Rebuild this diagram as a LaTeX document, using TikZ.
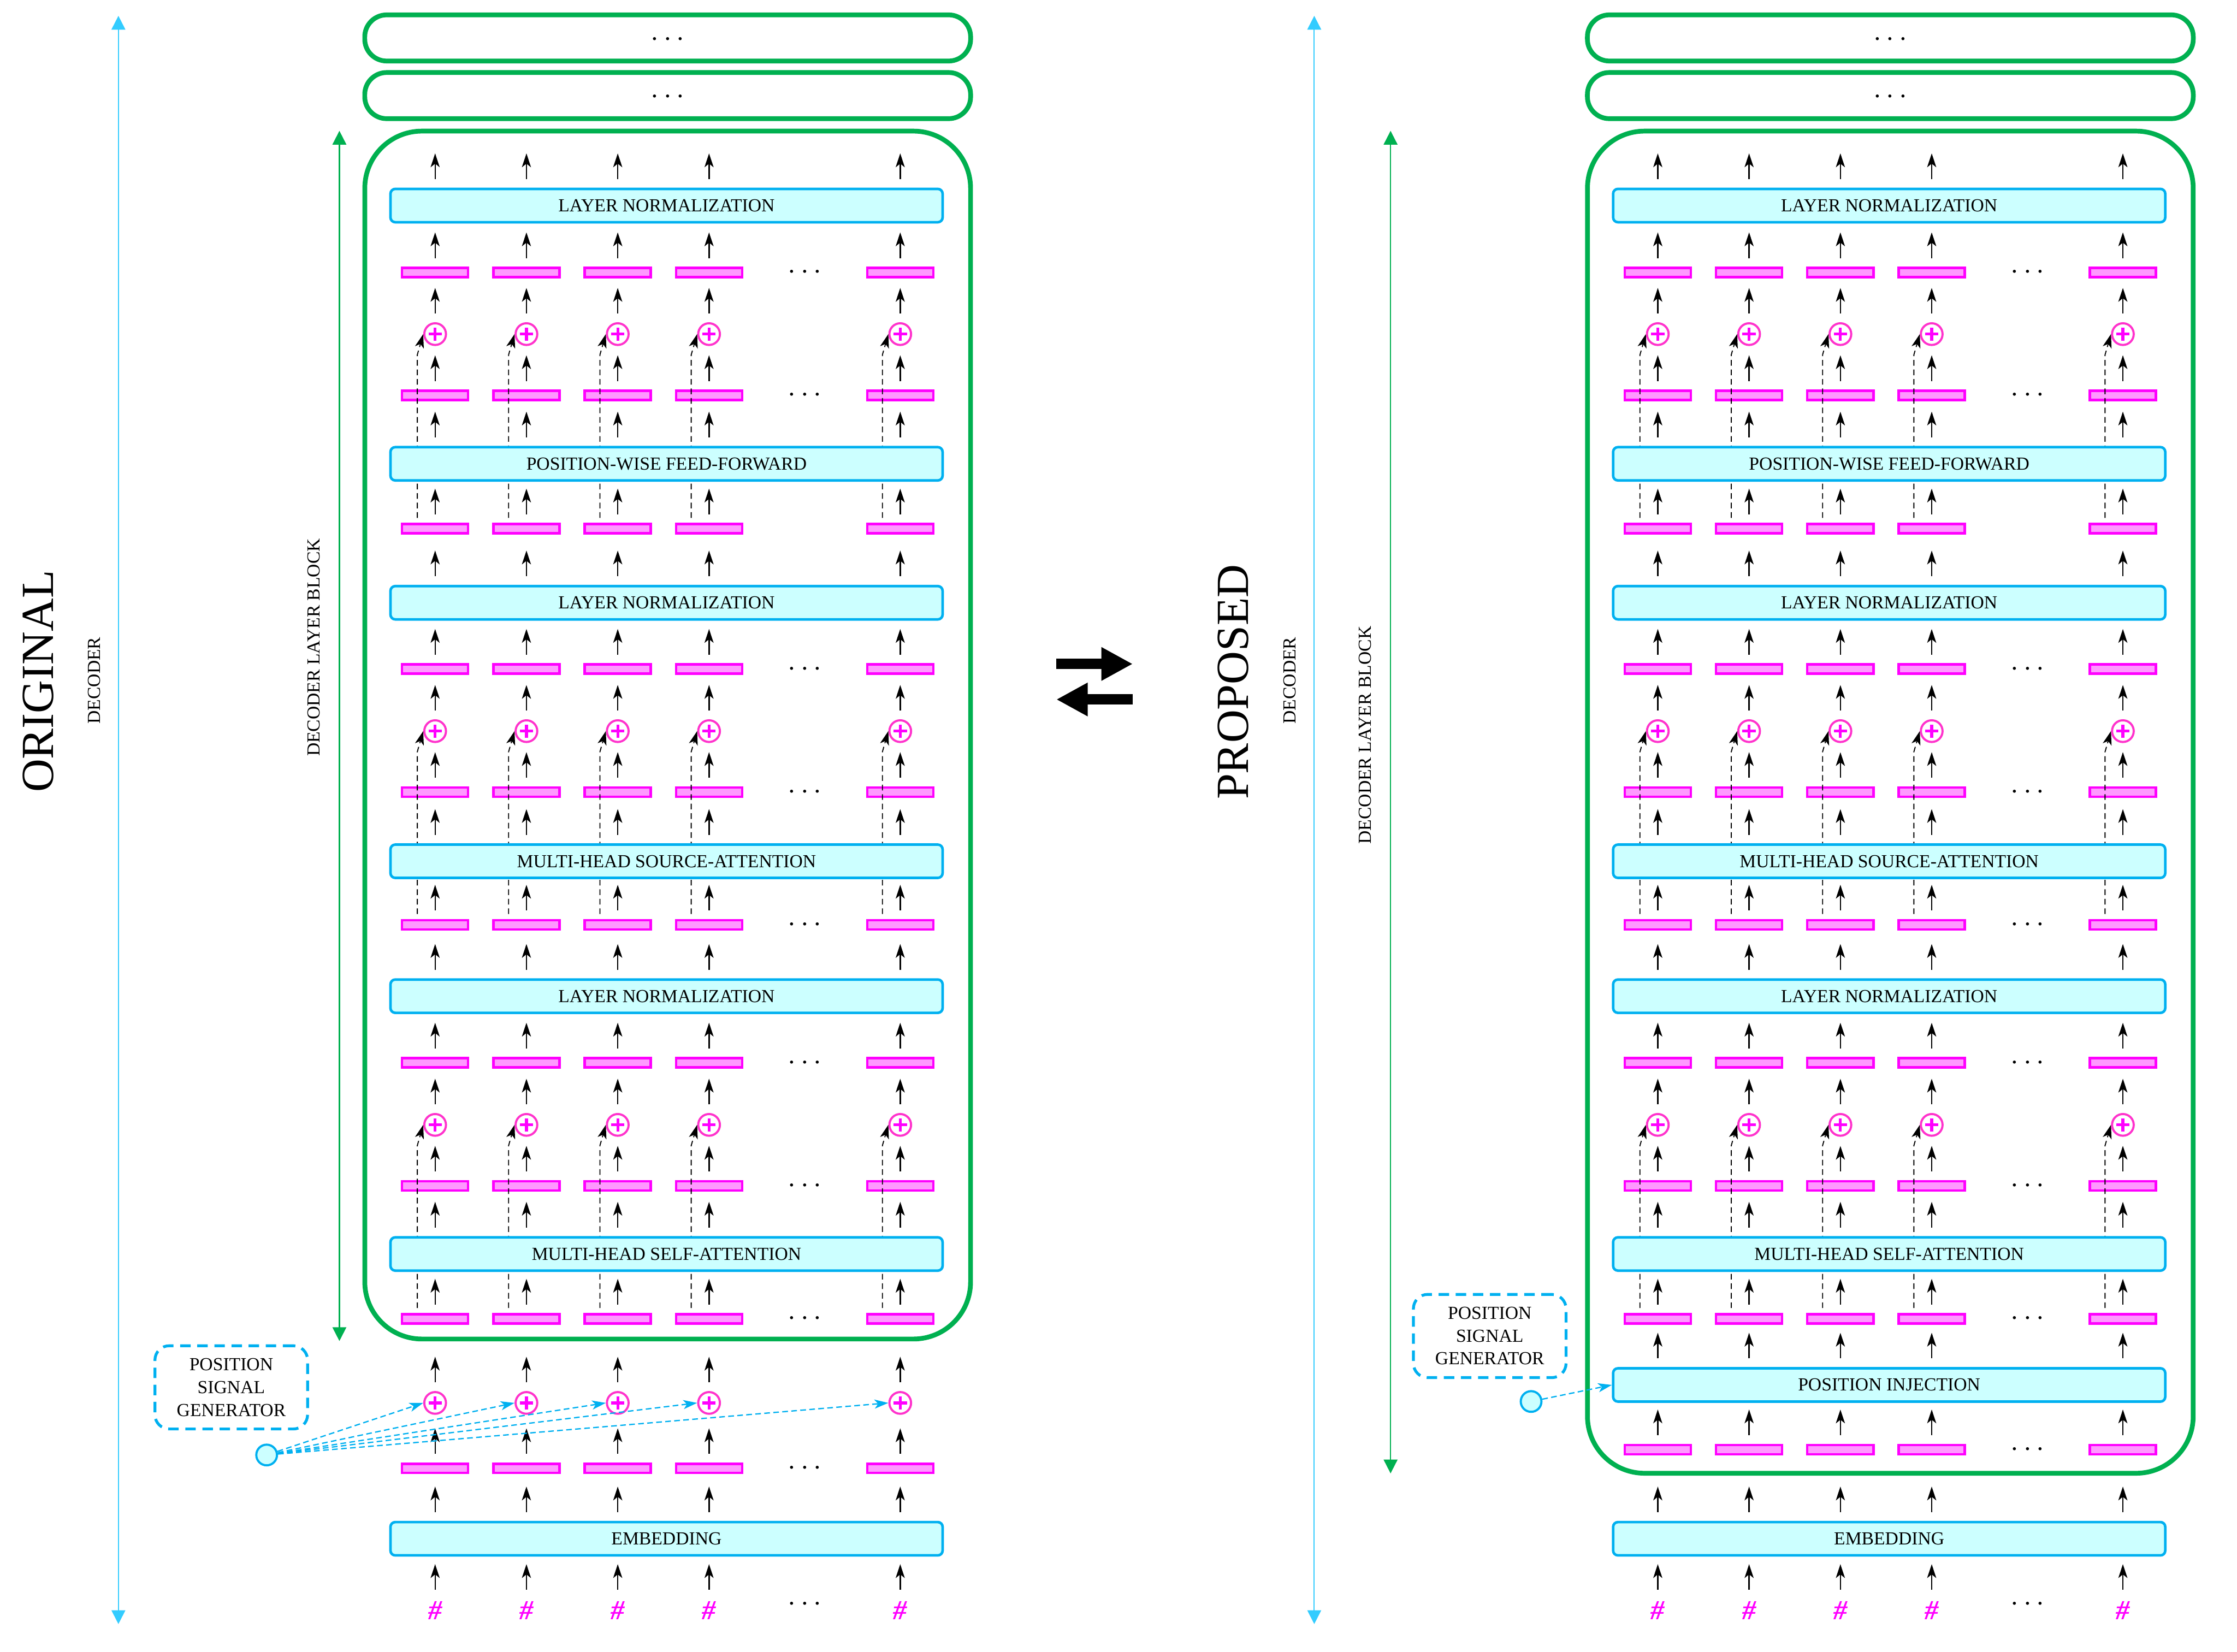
\documentclass[tikz,border=0pt]{standalone}
\usepackage{fontspec}
\setmainfont{Liberation Serif}
\usetikzlibrary{arrows.meta,calc,positioning}
\definecolor{OpFill}{HTML}{CCFFFF}
\definecolor{OpLine}{HTML}{00B0F0}
\definecolor{BlockGreen}{HTML}{00B050}
\definecolor{DecBlue}{HTML}{33CCFF}
\definecolor{VecFill}{HTML}{FF99FF}
\definecolor{VecLine}{HTML}{FF00FF}
\definecolor{AddLine}{HTML}{FF33CC}
\tikzset{
  opbox/.style={rectangle, rounded corners=1mm, draw=OpLine, fill=OpFill, line width=0.54mm,
             minimum width=116.1mm, minimum height=7mm, inner sep=0pt, font=\fontsize{11}{13}\selectfont},
  vecbar/.style={rectangle, draw=VecLine, fill=VecFill, line width=0.5mm,
             minimum width=13.9mm, minimum height=1.95mm, inner sep=0pt},
  addop/.style={circle, draw=AddLine, fill=white, line width=0.45mm, minimum size=4.56mm, inner sep=0pt,
             path picture={\draw[VecLine, line width=0.6mm]
               (path picture bounding box.center) +(-1.4mm,0) -- +(1.4mm,0)
               (path picture bounding box.center) +(0,-1.4mm) -- +(0,1.4mm);}},
  tokenmark/.style={text=VecLine, inner sep=0.6mm, font=\fontsize{16.5}{18}\selectfont\bfseries\itshape},
  ellip/.style={inner sep=0pt, text height=9.5pt, text depth=0pt, font=\fontsize{19}{19}\selectfont},
  stackbox/.style={rectangle, rounded corners=4.6mm, draw=BlockGreen, line width=1mm,
             minimum width=127.4mm, minimum height=9.7mm, inner sep=0pt,
             text height=9.5pt, text depth=0pt, font=\fontsize{19}{19}\selectfont},
  blockline/.style={draw=BlockGreen, line width=1mm, rounded corners=12mm},
  flow/.style={-{Stealth[length=2.9mm, width=1.9mm, inset=0.75mm]}, line width=0.8pt},
  resid/.style={flow, dash pattern=on 1.2mm off 0.8mm, line width=0.6pt},
  sigline/.style={-{Stealth[length=2.9mm, width=1.9mm, inset=0.75mm]}, draw=OpLine, line width=0.27mm,
             dash pattern=on 1.2mm off 0.7mm},
  psgbox/.style={rectangle, rounded corners=3mm, draw=OpLine, line width=0.6mm, dash pattern=on 2.2mm off 1.4mm,
             minimum width=32.1mm, minimum height=17.5mm, align=center, font=\fontsize{11}{13.6}\selectfont},
  psgdot/.style={circle, draw=OpLine, fill=OpFill, line width=0.45mm, minimum size=4.35mm, inner sep=0pt},
  spanarrow/.style={line width=0.7pt, {Triangle[length=2.9mm, width=2.9mm]}-{Triangle[length=2.9mm, width=2.9mm]}},
  swaparrow/.style={line width=2.22mm, -{Triangle[length=6.6mm, width=6.6mm]}},
  paneltitle/.style={rotate=90, inner sep=0pt, font=\fontsize{27.5}{30}\selectfont},
  sidelabel/.style={rotate=90, inner sep=0pt, font=\fontsize{11}{13}\selectfont},
}
% arrow of fixed length rising from the top of a node, in one column
\newcommand{\flowup}[2]{\draw[flow] (#1 |- #2.north) ++(0,-6) -- ++(0,-18);}

\begin{document}
\begin{tikzpicture}[x=0.3mm, y=-0.3mm]
\useasboundingbox (0,0) rectangle (1568,1158);

% o = original, p = proposed
\foreach \p/\dx in {o/0, p/857} {
  \foreach \c/\x in {1/305, 2/369, 3/433, 4/497, 5/631}
    \coordinate (\p col\c) at (\x+\dx, 0);
  \node[stackbox] (\p stack1) at (468+\dx, 26.6) {$\cdots$};
  \node[stackbox] (\p stack2) at (468+\dx, 67) {$\cdots$};
  \foreach \r/\y in {2/191, 4/277.1, 6/370.6, 8/469, 10/555.3, 12/648.3, 14/745, 16/831.3, 18/924.5}
    \foreach \c in {1,...,5}
      \node[vecbar] (\p\r-\c) at ($(\p col\c)+(0,\y)$) {};
  \foreach \r/\y in {3/234.2, 9/512.5, 15/788.5}
    \foreach \c in {1,...,5}
      \node[addop] (\p\r-\c) at ($(\p col\c)+(0,\y)$) {};
  % residual paths
  \foreach \s/\a in {18/15, 12/9, 6/3}
    \foreach \c in {1,...,5}
      \draw[resid] ($(\p\s-\c.north)+(-12.5,-3.5)$) -- ($(\p\a-\c.center)+(-12.5,14.5)$) -- (\p\a-\c.west);
  \foreach \r/\y/\txt in {1/144.1/LAYER NORMALIZATION, 5/325.1/POSITION-WISE FEED-FORWARD,
      7/422.5/LAYER NORMALIZATION, 11/603.7/MULTI-HEAD SOURCE-ATTENTION,
      13/698.3/LAYER NORMALIZATION, 17/879/MULTI-HEAD SELF-ATTENTION, 21/1078.6/EMBEDDING}
    \node[opbox] (\p\r) at (467.2+\dx, \y) {\txt};
  \foreach \c in {1,...,5}
    \node[tokenmark] (\p22-\c) at ($(\p col\c)+(0,1129)$) {\#};
  \foreach \r/\y in {2/190, 4/276.1, 8/468, 10/554.3, 12/647.3, 14/744, 16/830.3, 18/923.5, 22/1123.7}
    \node[ellip] (\p dots\r) at (564.2+\dx, \y) {$\cdots$};
}

% original: position signal added to the embeddings
\draw[blockline] (255.7,91.9) rectangle (680.3,938.6);
\foreach \c in {1,...,5} {
  \node[addop] (o19-\c) at ($(ocol\c)+(0,983.4)$) {};
  \node[vecbar] (o20-\c) at ($(ocol\c)+(0,1029.3)$) {};
}
\node[ellip] (odots20) at (564.2, 1028.3) {$\cdots$};

% proposed: position injection inside the block
\draw[blockline] (1112.7,91.9) rectangle (1537.3,1032.7);
\node[opbox] (p19) at (1324.2, 970.8) {POSITION INJECTION};
\foreach \c in {1,...,5}
  \node[vecbar] (p20-\c) at ($(pcol\c)+(0,1016.1)$) {};
\node[ellip] (pdots20) at (1421.2, 1015.1) {$\cdots$};

\foreach \p in {o,p} {
  \foreach \c in {1,...,5} {
    \foreach \lo in {1, 2-\c, 3-\c, 4-\c, 5, 6-\c, 7, 8-\c, 9-\c, 10-\c, 11, 12-\c, 13, 14-\c,
        15-\c, 16-\c, 17, 18-\c, 20-\c, 21, 22-\c} {
      \flowup{\p col\c}{\p\lo}
    }
  }
}
\foreach \c in {1,...,5} {
  \flowup{ocol\c}{o19-\c}
  \flowup{pcol\c}{p19}
}

% position signal generators
\node[psgbox] (opsg) at (162.1, 972.5) {POSITION\\SIGNAL\\GENERATOR};
\node[psgdot] (opsgout) at (186.9, 1019.9) {};
\foreach \c in {1,...,5}
  \draw[sigline] (opsgout) -- (o19-\c.west);
\node[psgbox] (ppsg) at (1044.2, 936.5) {POSITION\\SIGNAL\\GENERATOR};
\node[psgdot] (ppsgout) at (1073.2, 982.4) {};
\draw[sigline] (ppsgout) -- (p19.west);

% extents and labels
\coordinate (odectop) at (83, 11.1);
\coordinate (odecbot) at (83, 1138.4);
\coordinate (oblktop) at (237.9, 91.7);
\coordinate (oblkbot) at (237.9, 940);
\coordinate (pdectop) at (921.2, 11.1);
\coordinate (pdecbot) at (921.2, 1138.4);
\coordinate (pblktop) at (974.7, 91.7);
\coordinate (pblkbot) at (974.7, 1032.8);
\draw[spanarrow, DecBlue] (odecbot) -- (odectop);
\draw[spanarrow, BlockGreen] (oblkbot) -- (oblktop);
\draw[spanarrow, DecBlue] (pdecbot) -- (pdectop);
\draw[spanarrow, BlockGreen] (pblkbot) -- (pblktop);
\node[paneltitle] (otitle) at (26.7, 477.6) {ORIGINAL};
\node[sidelabel] (odec) at (66, 477) {DECODER};
\node[sidelabel] (oblk) at (219.8, 453.8) {DECODER LAYER BLOCK};
\node[paneltitle] (ptitle) at (864.5, 478) {PROPOSED};
\node[sidelabel] (pdec) at (904, 477) {DECODER};
\node[sidelabel] (pblk) at (957, 515.3) {DECODER LAYER BLOCK};

% swap sign
\draw[swaparrow] (740.4,465.4) -- (794,465.4);
\draw[swaparrow] (794,490.3) -- (740.4,490.3);
\end{tikzpicture}
\end{document}
